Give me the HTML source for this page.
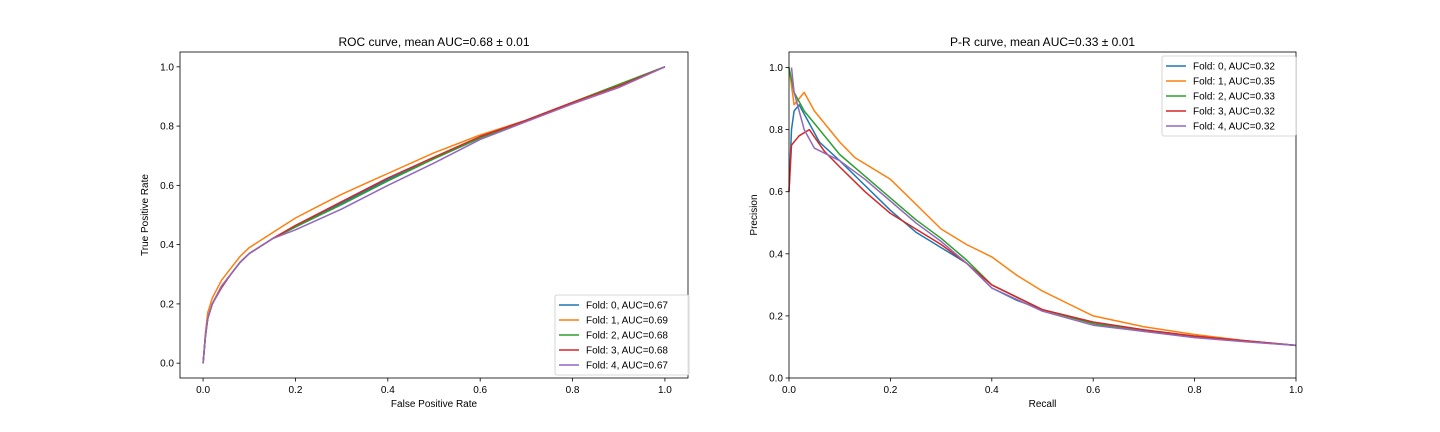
<!DOCTYPE html>
<html><head><meta charset="utf-8">
<style>
html,body{margin:0;padding:0;background:#fff;}
svg{display:block;font-family:"Liberation Sans","DejaVu Sans",sans-serif;}
</style></head>
<body>
<svg id="fig" width="1440" height="432" viewBox="0 0 1440 432" xmlns="http://www.w3.org/2000/svg">
<rect width="1440" height="432" fill="#fff"/>
</svg>
<script>
const colors = ["#1f77b4","#ff7f0e","#2ca02c","#d62728","#9467bd"];
const rocLabels = ["Fold: 0, AUC=0.67","Fold: 1, AUC=0.69","Fold: 2, AUC=0.68","Fold: 3, AUC=0.68","Fold: 4, AUC=0.67"];
const prLabels = ["Fold: 0, AUC=0.32","Fold: 1, AUC=0.35","Fold: 2, AUC=0.33","Fold: 3, AUC=0.32","Fold: 4, AUC=0.32"];
const rocTicks = [0,0.2,0.4,0.6,0.8,1.0];
const prXTicks = [0,0.2,0.4,0.6,0.8,1.0];
const prYTicks = [0,0.2,0.4,0.6,0.8,1.0];

const rocFpr0 = [0,0.005,0.01,0.02,0.04,0.06,0.08,0.1,0.15,0.2,0.3,0.4,0.5,0.6,0.7,0.8,0.9,1];
const rocTpr0 = [0,0.09,0.15,0.2,0.26,0.3,0.34,0.37,0.42,0.46,0.54,0.62,0.69,0.76,0.82,0.88,0.94,1];
const rocFpr1 = [0,0.005,0.01,0.02,0.04,0.06,0.08,0.1,0.15,0.2,0.25,0.3,0.4,0.5,0.6,0.7,0.8,0.9,1];
const rocTpr1 = [0,0.1,0.17,0.22,0.28,0.32,0.36,0.39,0.44,0.49,0.53,0.57,0.64,0.71,0.77,0.82,0.88,0.94,1];
const rocFpr2 = [0,0.005,0.01,0.02,0.04,0.06,0.08,0.1,0.15,0.2,0.3,0.4,0.5,0.6,0.7,0.8,0.9,1];
const rocTpr2 = [0,0.09,0.15,0.2,0.26,0.3,0.34,0.37,0.42,0.46,0.535,0.615,0.69,0.76,0.82,0.88,0.94,1];
const rocFpr3 = [0,0.005,0.01,0.02,0.04,0.06,0.08,0.1,0.15,0.2,0.3,0.4,0.5,0.6,0.7,0.8,0.9,1];
const rocTpr3 = [0,0.09,0.15,0.2,0.255,0.3,0.34,0.37,0.42,0.465,0.545,0.625,0.695,0.765,0.82,0.88,0.935,1];
const rocFpr4 = [0,0.005,0.01,0.02,0.04,0.06,0.08,0.1,0.15,0.2,0.3,0.4,0.5,0.6,0.7,0.8,0.9,1];
const rocTpr4 = [0,0.09,0.15,0.2,0.26,0.3,0.34,0.37,0.42,0.45,0.52,0.6,0.675,0.755,0.815,0.875,0.93,1];

const prRec0 = [0,0.005,0.01,0.02,0.04,0.06,0.1,0.15,0.2,0.25,0.3,0.35,0.4,0.45,0.5,0.6,0.7,0.8,0.9,1];
const prPrec0 = [0.6,0.8,0.86,0.88,0.82,0.76,0.7,0.62,0.54,0.47,0.42,0.37,0.29,0.25,0.22,0.18,0.155,0.135,0.12,0.105];
const prRec1 = [0,0.01,0.02,0.03,0.05,0.08,0.1,0.13,0.2,0.25,0.3,0.35,0.4,0.45,0.5,0.55,0.6,0.7,0.8,0.9,1];
const prPrec1 = [1,0.88,0.9,0.92,0.86,0.8,0.76,0.71,0.64,0.56,0.48,0.43,0.39,0.33,0.28,0.24,0.2,0.165,0.14,0.12,0.105];
const prRec2 = [0,0.01,0.03,0.05,0.1,0.15,0.2,0.25,0.3,0.35,0.4,0.45,0.5,0.6,0.7,0.8,0.9,1];
const prPrec2 = [1,0.92,0.86,0.82,0.72,0.65,0.58,0.51,0.45,0.38,0.3,0.26,0.22,0.175,0.15,0.132,0.118,0.105];
const prRec3 = [0,0.005,0.02,0.04,0.07,0.1,0.15,0.2,0.25,0.3,0.35,0.4,0.45,0.5,0.6,0.7,0.8,0.9,1];
const prPrec3 = [0.6,0.75,0.78,0.8,0.73,0.68,0.6,0.53,0.48,0.43,0.37,0.3,0.26,0.22,0.18,0.155,0.135,0.12,0.105];
const prRec4 = [0.005,0.01,0.03,0.05,0.1,0.15,0.2,0.25,0.3,0.35,0.4,0.5,0.6,0.7,0.8,0.9,1];
const prPrec4 = [1,0.92,0.8,0.74,0.7,0.64,0.57,0.5,0.44,0.37,0.29,0.215,0.17,0.15,0.13,0.117,0.105];

const rocX = [rocFpr0,rocFpr1,rocFpr2,rocFpr3,rocFpr4];
const rocY = [rocTpr0,rocTpr1,rocTpr2,rocTpr3,rocTpr4];
const prX = [prRec0,prRec1,prRec2,prRec3,prRec4];
const prY = [prPrec0,prPrec1,prPrec2,prPrec3,prPrec4];

const NS="http://www.w3.org/2000/svg";
const svg=document.getElementById('fig');
function el(tag,attrs,parent){const e=document.createElementNS(NS,tag);for(const k in attrs)e.setAttribute(k,attrs[k]);(parent||svg).appendChild(e);return e;}
function txt(s,attrs,parent){const e=el('text',attrs,parent);e.textContent=s;return e;}

function panel(o){
  const g=el('g',{});
  
  
  const sx=v=>o.x0+(v-o.xmin)/(o.xmax-o.xmin)*(o.x1-o.x0);
  const sy=v=>o.y1-(v-o.ymin)/(o.ymax-o.ymin)*(o.y1-o.y0);
  // series
  for(let i=0;i<o.xs.length;i++){
    const d=o.xs[i].map((v,j)=>(j?'L':'M')+sx(v).toFixed(1)+','+sy(o.ys[i][j]).toFixed(1)).join('');
    const p=el('path',{d:d,fill:'none',stroke:colors[i],'stroke-width':1.5,'stroke-linejoin':'round'},g);
    
    
  }
  // frame
  const fr=el('rect',{x:o.x0,y:o.y0,width:o.x1-o.x0,height:o.y1-o.y0,fill:'none',stroke:'#000','stroke-width':0.8},g);
  
  
  o.xt.forEach(t=>{
    const x=sx(t);
    el('line',{x1:x,x2:x,y1:o.y1,y2:o.y1+3.5,stroke:'#000','stroke-width':0.8},g);
    const l=txt(t.toFixed(1),{x:x,y:o.y1+15,'font-size':10,'text-anchor':'middle',fill:'#000'},g);
    
    
  });
  o.yt.forEach(t=>{
    const y=sy(t);
    el('line',{x1:o.x0-3.5,x2:o.x0,y1:y,y2:y,stroke:'#000','stroke-width':0.8},g);
    const l=txt(t.toFixed(1),{x:o.x0-6,y:y+3.5,'font-size':10,'text-anchor':'end',fill:'#000'},g);
    
    
  });
  const ti=txt(o.title,{x:(o.x0+o.x1)/2,y:o.y0-6,'font-size':12,'text-anchor':'middle',fill:'#000'},g);
  
  
  const xl=txt(o.xlabel,{x:(o.x0+o.x1)/2,y:o.y1+29,'font-size':10,'text-anchor':'middle',fill:'#000'},g);
  
  
  const yx=o.x0-32, yy=(o.y0+o.y1)/2;
  const yl=txt(o.ylabel,{x:yx,y:yy,'font-size':10,'text-anchor':'middle',fill:'#000',transform:`rotate(-90 ${yx} ${yy})`},g);
  
  
  // legend
  const lg=el('g',{},g);
  
  
  el('rect',{x:o.lx,y:o.ly,width:134,height:80,rx:2,fill:'#fff','fill-opacity':0.85,stroke:'#ccc','stroke-width':0.8},lg);
  o.labels.forEach((s,i)=>{
    const yy2=o.ly+10+i*15;
    const e=el('g',{},lg);
    
    
    el('line',{x1:o.lx+4,x2:o.lx+24,y1:yy2,y2:yy2,stroke:colors[i],'stroke-width':1.5},e);
    txt(s,{x:o.lx+31,y:yy2+3.5,'font-size':10,fill:'#000'},e);
  });
}

panel({name:'roc-chart',x0:180,x1:688,y0:52,y1:378,xmin:-0.05,xmax:1.05,ymin:-0.05,ymax:1.05,
  xs:rocX,ys:rocY,xt:rocTicks,yt:rocTicks,title:'ROC curve, mean AUC=0.68 \u00b1 0.01',
  xlabel:'False Positive Rate',ylabel:'True Positive Rate',labels:rocLabels,lx:555,ly:295});
panel({name:'pr-chart',x0:789,x1:1296,y0:52,y1:378,xmin:0,xmax:1,ymin:0,ymax:1.05,
  xs:prX,ys:prY,xt:prXTicks,yt:prYTicks,title:'P-R curve, mean AUC=0.33 \u00b1 0.01',
  xlabel:'Recall',ylabel:'Precision',labels:prLabels,lx:1162,ly:56});
</script>
</body></html>
